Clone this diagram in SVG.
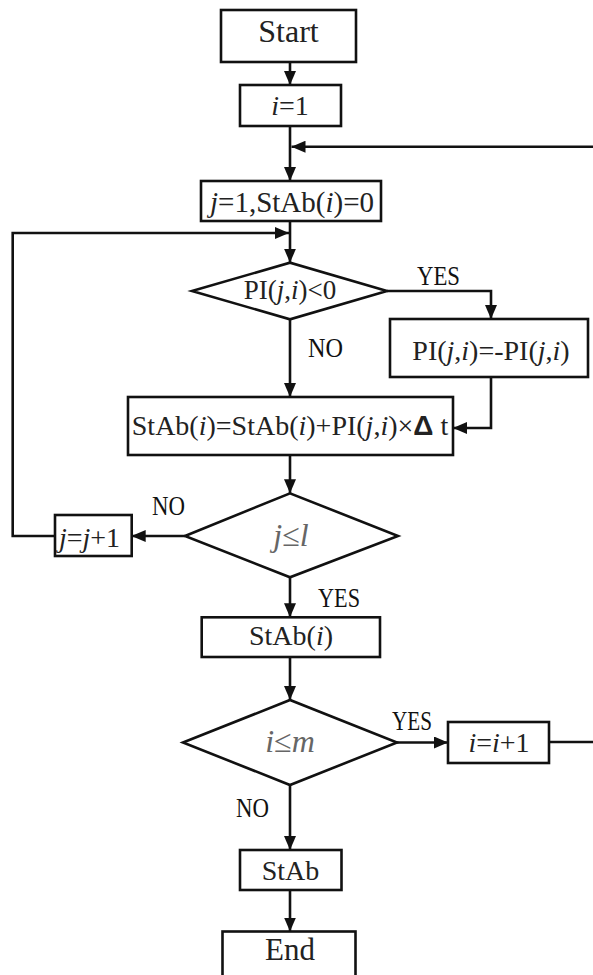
<svg xmlns="http://www.w3.org/2000/svg" width="593" height="975" viewBox="0 0 593 975">
<defs>
<marker id="ah" markerUnits="userSpaceOnUse" markerWidth="14" markerHeight="12" refX="14" refY="6" orient="auto">
<path d="M0,0 L14,6 L0,12 z" fill="#111"/>
</marker>
<style>
.box{fill:#fff;stroke:#111;stroke-width:2.6}
.ln{fill:none;stroke:#111;stroke-width:2.6}
.t{font-family:"Liberation Serif","Times New Roman",serif;font-size:28px;fill:#222;text-anchor:middle}
.lbl{font-family:"Liberation Serif","Times New Roman",serif;font-size:27px;fill:#111}
.g{fill:#666}
.it{font-style:italic}
.d{font-family:"Liberation Sans",Arial,sans-serif;font-weight:bold}
</style>
</defs>
<rect width="593" height="975" fill="#fff"/>
<g id="connectors">
<path class="ln" d="M290,62 V85" marker-end="url(#ah)"/>
<path class="ln" d="M290,126 V181" marker-end="url(#ah)"/>
<path class="ln" d="M549,742 H600 V146.7 H291.5" marker-end="url(#ah)"/>
<path class="ln" d="M290,221 V262.7" marker-end="url(#ah)"/>
<path class="ln" d="M55,536 H12.7 V233 H289" marker-end="url(#ah)"/>
<path class="ln" d="M387,291 H491 V319" marker-end="url(#ah)"/>
<path class="ln" d="M290,319.3 V397" marker-end="url(#ah)"/>
<path class="ln" d="M491,377 V428 H453" marker-end="url(#ah)"/>
<path class="ln" d="M290,455 V493.3" marker-end="url(#ah)"/>
<path class="ln" d="M185,536 H131.7" marker-end="url(#ah)"/>
<path class="ln" d="M290,577.3 V617.3" marker-end="url(#ah)"/>
<path class="ln" d="M290,657 V700" marker-end="url(#ah)"/>
<path class="ln" d="M397,742.5 H448" marker-end="url(#ah)"/>
<path class="ln" d="M290,785 V850" marker-end="url(#ah)"/>
<path class="ln" d="M290,890 V931.5" marker-end="url(#ah)"/>
</g>
<g id="start"><rect class="box" x="221" y="10" width="135" height="52"/><text class="t" x="288.5" y="41.7" style="font-size:32px">Start</text></g>
<g id="init-i"><rect class="box" x="240" y="85" width="101" height="41"/><text class="t" x="290" y="115"><tspan class="it">i</tspan>=1</text></g>
<g id="init-j"><rect class="box" x="201" y="181" width="180" height="40"/><text class="t" x="292" y="211.7" style="font-size:29px"><tspan class="it">j</tspan>=1,StAb(<tspan class="it">i</tspan>)=0</text></g>
<g id="cond-pi"><path class="box" d="M192,291 L290,262.7 L387,291 L290,319.3 Z"/><text class="t" x="290" y="299" style="font-size:27px">PI(<tspan class="it">j</tspan>,<tspan class="it">i</tspan>)&lt;0</text></g>
<g id="neg-pi"><rect class="box" x="390" y="319" width="198" height="58"/><text class="t" x="491" y="360">PI(<tspan class="it">j</tspan>,<tspan class="it">i</tspan>)=-PI(<tspan class="it">j</tspan>,<tspan class="it">i</tspan>)</text></g>
<g id="accum"><rect class="box" x="128" y="397" width="325" height="58"/><text class="t" x="290" y="435">StAb(<tspan class="it">i</tspan>)=StAb(<tspan class="it">i</tspan>)+PI(<tspan class="it">j</tspan>,<tspan class="it">i</tspan>)×<tspan class="d">Δ</tspan> t</text></g>
<g id="cond-j"><path class="box" d="M185,536 L290,493.3 L398,536 L290,577.3 Z"/><text class="t g it" x="291" y="546" style="font-size:32px">j≤l</text></g>
<g id="inc-j"><rect class="box" x="55" y="515" width="76.7" height="41"/><text class="t" x="89.5" y="546.7"><tspan class="it">j</tspan>=<tspan class="it">j</tspan>+1</text></g>
<g id="stab-i"><rect class="box" x="201.7" y="617.3" width="178.3" height="39.7"/><text class="t" x="291" y="645">StAb(<tspan class="it">i</tspan>)</text></g>
<g id="cond-i"><path class="box" d="M183,742.5 L290,700 L397,742.5 L290,785 Z"/><text class="t g it" x="290" y="752" style="font-size:32px">i≤m</text></g>
<g id="inc-i"><rect class="box" x="448" y="722" width="101" height="41"/><text class="t" x="499" y="751.7"><tspan class="it">i</tspan>=<tspan class="it">i</tspan>+1</text></g>
<g id="stab"><rect class="box" x="240" y="850" width="101.5" height="40"/><text class="t" x="290.5" y="880">StAb</text></g>
<g id="end"><rect class="box" x="222.5" y="931.5" width="133" height="60"/><text class="t" x="290" y="960" style="font-size:31px">End</text></g>
<g id="labels">
<text class="lbl" x="417" y="285" textLength="43" lengthAdjust="spacingAndGlyphs">YES</text>
<text class="lbl" x="308" y="357" textLength="35" lengthAdjust="spacingAndGlyphs">NO</text>
<text class="lbl" x="152" y="515" textLength="33" lengthAdjust="spacingAndGlyphs">NO</text>
<text class="lbl" x="318" y="606.5" textLength="42" lengthAdjust="spacingAndGlyphs">YES</text>
<text class="lbl" x="392" y="730" textLength="40" lengthAdjust="spacingAndGlyphs">YES</text>
<text class="lbl" x="236" y="817" textLength="33" lengthAdjust="spacingAndGlyphs">NO</text>
</g>
</svg>
